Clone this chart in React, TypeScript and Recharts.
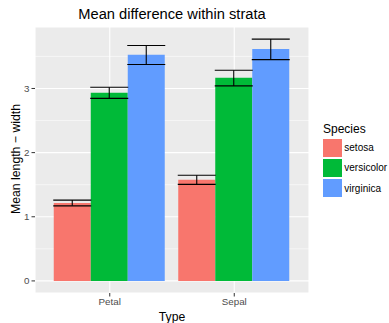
import React from 'react';
import { BarChart, Bar, XAxis, YAxis, CartesianGrid, ErrorBar } from 'recharts';

const types = ['Petal', 'Sepal'];
const species = ['setosa', 'versicolor', 'virginica'];
const colors = ['#F8766D', '#00BA38', '#619CFF'];

const setosaMean = [1.216, 1.578];
const setosaLow = [1.17, 1.505];
const setosaHigh = [1.26, 1.648];

const versicolorMean = [2.934, 3.166];
const versicolorLow = [2.845, 3.04];
const versicolorHigh = [3.02, 3.285];

const virginicaMean = [3.526, 3.614];
const virginicaLow = [3.375, 3.45];
const virginicaHigh = [3.67, 3.77];

const yTicks = [0, 1, 2, 3];
const yMinor = [0.5, 1.5, 2.5, 3.5];

const means = [setosaMean, versicolorMean, virginicaMean];
const lows = [setosaLow, versicolorLow, virginicaLow];
const highs = [setosaHigh, versicolorHigh, virginicaHigh];

const data = types.map((t, i) => {
  const row: any = { type: t };
  species.forEach((s, k) => {
    row[s] = means[k][i];
    row[s + 'Err'] = [means[k][i] - lows[k][i], highs[k][i] - means[k][i]];
  });
  return row;
});

const FONT = '"Liberation Sans", Arial, Helvetica, sans-serif';

export default function App() {
  return (
    <div style={{ position: 'absolute', left: 0, top: 0, width: 389, height: 323, background: '#fff', fontFamily: FONT }}>
      <div style={{ position: 'absolute', left: 35, width: 274, top: 5.6, textAlign: 'center', fontSize: 14.7, color: '#000', lineHeight: '17px', whiteSpace: 'nowrap' }}>
        Mean difference within strata
      </div>
      <div style={{ position: 'absolute', left: 35, width: 274, top: 310, textAlign: 'center', fontSize: 12.2, color: '#000', lineHeight: '14px' }}>
        Type
      </div>
      <div
        style={{
          position: 'absolute',
          left: 15.5,
          top: 159,
          transform: 'translate(-50%, -50%) rotate(-90deg)',
          fontSize: 12.25,
          color: '#000',
          whiteSpace: 'nowrap',
          lineHeight: '14px',
        }}
      >
        Mean length − width
      </div>
      <div style={{ position: 'absolute', left: 323, top: 122.4, width: 66, fontFamily: FONT }}>
        <div style={{ fontSize: 12, color: '#000', lineHeight: '14px', height: 15.3, whiteSpace: 'nowrap' }}>Species</div>
        {species.map((s, k) => (
          <div key={s} style={{ display: 'flex', alignItems: 'center', height: 20.2 }}>
            <div style={{ width: 19, height: 18, background: colors[k], flex: 'none' }} />
            <span style={{ fontSize: 10, color: '#000', marginLeft: 2.3, whiteSpace: 'nowrap' }}>{s}</span>
          </div>
        ))}
      </div>
      <div style={{ position: 'absolute', left: 0, top: 0 }}>
        <BarChart
          width={389}
          height={323}
          data={data}
          margin={{ top: 27, right: 80, bottom: 0, left: 0 }}
          barCategoryGap={6.25}
          barGap={0}
        >
          <CartesianGrid fill="#EBEBEB" stroke="#FFFFFF" strokeWidth={0.55} vertical={false} horizontalValues={yMinor} />
          <CartesianGrid stroke="#FFFFFF" strokeWidth={1.1} />
          <XAxis
            dataKey="type"
            type="category"
            ticks={types}
            padding={{ left: 12.5, right: 12.5 }}
            axisLine={false}
            tickLine={{ stroke: '#333333' }}
            tickSize={3.5}
            tickMargin={1.5}
            height={30}
            tick={{ fontSize: 9.8, fill: '#4D4D4D', fontFamily: FONT }}
          />
          <YAxis
            type="number"
            domain={[-0.1885, 3.9585]}
            ticks={yTicks}
            allowDataOverflow
            axisLine={false}
            tickLine={{ stroke: '#333333' }}
            tickSize={3.5}
            tickMargin={2}
            width={35}
            tick={{ fontSize: 9.8, fill: '#4D4D4D', fontFamily: FONT }}
          />
          {species.map((s, k) => (
            <Bar key={s} dataKey={s} fill={colors[k]} isAnimationActive={false}>
              <ErrorBar dataKey={s + 'Err'} width={19} stroke="#000000" strokeWidth={1.1} isAnimationActive={false} />
            </Bar>
          ))}
        </BarChart>
      </div>
    </div>
  );
}
